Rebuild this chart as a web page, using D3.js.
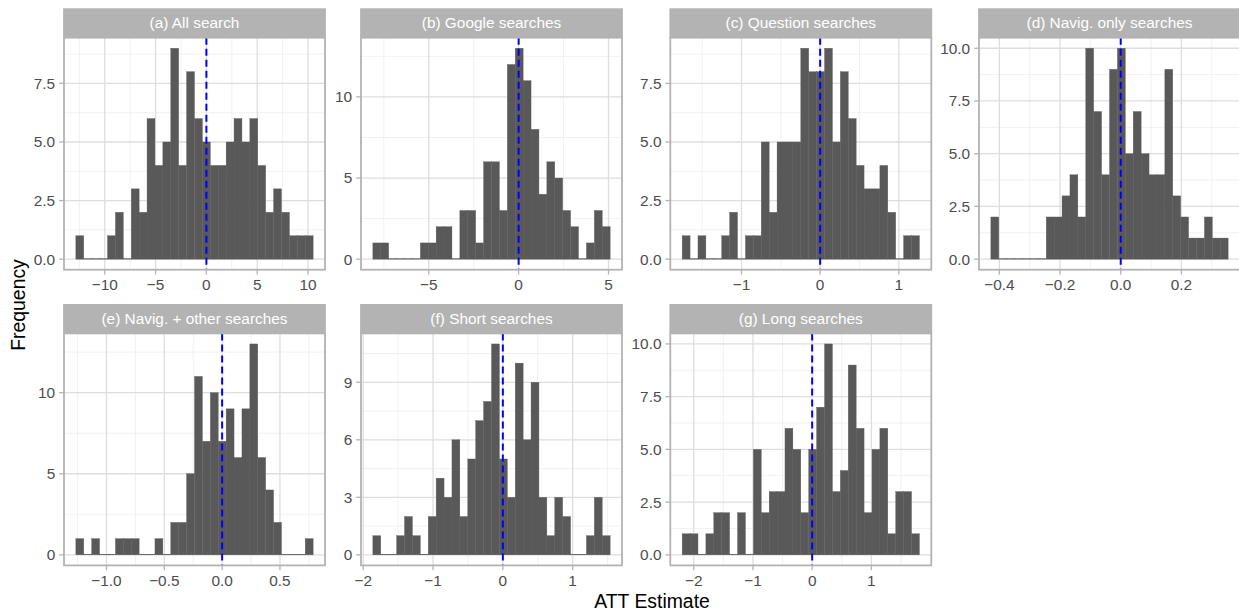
<!DOCTYPE html>
<html>
<head>
<meta charset="utf-8">
<script src="https://cdn.jsdelivr.net/npm/d3@7"></script>
<style>
  body { margin: 0; background: #fff; }
  text { font-family: "Liberation Sans", Arial, sans-serif; }
</style>
</head>
<body>
<div id="chart-container"></div>
<script>
// Panel titles (facet strips)
const panelTitles = [
  "(a) All search", "(b) Google searches", "(c) Question searches",
  "(d) Navig. only searches", "(e) Navig. + other searches",
  "(f) Short searches", "(g) Long searches"
];

// Histogram bin range [first bin left edge, last bin right edge], 30 bins each
const binRanges = [
  [-12.84, 10.5], [-8.11, 5.09], [-1.754, 1.262], [-0.428, 0.354],
  [-1.265, 0.787], [-1.862, 1.537], [-2.196, 1.812]
];

// Bin counts
const countsA = [1,0,0,0,1,2,0,3,2,6,4,5,9,4,8,6,5,4,4,5,6,5,6,4,2,3,2,1,1,1];
const countsB = [1,1,0,0,0,0,1,1,2,2,0,3,3,1,6,6,3,12,13,11,8,4,6,5,3,2,0,1,3,2];
const countsC = [1,0,1,0,0,1,2,0,1,1,5,2,5,5,5,9,8,8,9,5,8,6,4,3,3,4,2,0,1,1];
const countsD = [2,0,0,0,0,0,0,2,2,3,4,2,10,7,4,9,10,5,7,5,4,4,9,3,2,1,1,2,1,1];
const countsE = [1,0,1,0,0,1,1,1,0,0,1,0,2,2,5,11,7,10,7,9,6,9,13,6,4,2,0,0,0,1];
const countsF = [1,0,0,1,2,1,0,2,4,3,6,2,5,7,8,11,5,3,10,6,9,3,1,3,2,0,0,1,3,1];
const countsG = [1,1,0,1,2,2,0,2,0,5,2,3,3,6,5,2,5,7,10,3,4,9,6,2,5,6,1,3,3,1];
const allCounts = [countsA, countsB, countsC, countsD, countsE, countsF, countsG];

// Tick labels per panel
const xTickLabels = [
  ["−10", "−5", "0", "5", "10"],
  ["−5", "0", "5"],
  ["−1", "0", "1"],
  ["−0.4", "−0.2", "0.0", "0.2"],
  ["−1.0", "−0.5", "0.0", "0.5"],
  ["−2", "−1", "0", "1"],
  ["−2", "−1", "0", "1"]
];
const yTickLabels = [
  ["0.0", "2.5", "5.0", "7.5"],
  ["0", "5", "10"],
  ["0.0", "2.5", "5.0", "7.5"],
  ["0.0", "2.5", "5.0", "7.5", "10.0"],
  ["0", "5", "10"],
  ["0", "3", "6", "9"],
  ["0.0", "2.5", "5.0", "7.5", "10.0"]
];
const refLine = 0;

const width = 1239, height = 613;
const colX = [64, 361, 670.3, 979];
const colW = 261;
const rowTop = [8.3, 304];
const stripH = 29.4;
const panelH = 232;

const num = s => +s.replace("−", "-");

const svg = d3.select("#chart-container")
  .append("svg")
  .attr("width", width)
  .attr("height", height);

function minorsFor(majors, domain) {
  const step = majors[1] - majors[0];
  const out = [];
  for (let v = majors[0] - step / 2; v <= majors[majors.length - 1] + step / 2 + 1e-9; v += step) {
    if (v >= domain[0] && v <= domain[1]) out.push(v);
  }
  return out;
}

allCounts.forEach((counts, i) => {
  const col = i % 4, row = Math.floor(i / 4);
  const x0 = colX[col];
  const st = rowTop[row];
  const top = st + stripH;
  const bottom = top + panelH;

  const [lo, hi] = binRanges[i];
  const n = counts.length;
  const bw = (hi - lo) / n;
  const bins = counts.map((c, k) => ({ x0: lo + k * bw, x1: lo + (k + 1) * bw, c }));

  const xr = hi - lo;
  const xScale = d3.scaleLinear()
    .domain([lo - 0.05 * xr, hi + 0.05 * xr])
    .range([x0, x0 + colW]);
  const yMax = d3.max(counts);
  const yScale = d3.scaleLinear()
    .domain([-0.05 * yMax, yMax * 1.05])
    .range([bottom, top]);

  const xMaj = xTickLabels[i].map(num);
  const yMaj = yTickLabels[i].map(num);

  const g = svg.append("g");

  // clip panel
  const clipId = "clip" + i;
  g.append("clipPath").attr("id", clipId)
    .append("rect").attr("x", x0).attr("y", top).attr("width", colW).attr("height", panelH);
  const pg = g.append("g").attr("clip-path", `url(#${clipId})`);

  // minor grid
  minorsFor(xMaj, xScale.domain()).forEach(v => {
    pg.append("line").attr("x1", xScale(v)).attr("x2", xScale(v))
      .attr("y1", top).attr("y2", bottom)
      .attr("stroke", "#EBEBEB").attr("stroke-width", 0.7);
  });
  minorsFor(yMaj, yScale.domain()).forEach(v => {
    pg.append("line").attr("x1", x0).attr("x2", x0 + colW)
      .attr("y1", yScale(v)).attr("y2", yScale(v))
      .attr("stroke", "#EBEBEB").attr("stroke-width", 0.7);
  });
  // major grid
  xMaj.forEach(v => {
    pg.append("line").attr("x1", xScale(v)).attr("x2", xScale(v))
      .attr("y1", top).attr("y2", bottom)
      .attr("stroke", "#DEDEDE").attr("stroke-width", 1.3);
  });
  yMaj.forEach(v => {
    pg.append("line").attr("x1", x0).attr("x2", x0 + colW)
      .attr("y1", yScale(v)).attr("y2", yScale(v))
      .attr("stroke", "#DEDEDE").attr("stroke-width", 1.3);
  });

  // bars (thin same-colour stroke hides seams between neighbours)
  pg.selectAll("rect.bar")
    .data(bins)
    .enter()
    .append("rect")
    .attr("class", "bar")
    .attr("x", d => xScale(d.x0))
    .attr("width", d => xScale(d.x1) - xScale(d.x0))
    .attr("y", d => Math.min(yScale(d.c), yScale(0) - 0.6))
    .attr("height", d => Math.max(yScale(0) - yScale(d.c), 0.6))
    .attr("fill", "#595959")
    .attr("stroke", "#595959")
    .attr("stroke-width", 0.35);

  // reference line
  pg.append("line")
    .attr("x1", xScale(refLine)).attr("x2", xScale(refLine))
    .attr("y1", top).attr("y2", bottom)
    .attr("stroke", "#0000FF").attr("stroke-width", 2)
    .attr("stroke-dasharray", "7,4");

  // panel border
  g.append("rect").attr("x", x0).attr("y", top).attr("width", colW).attr("height", panelH)
    .attr("fill", "none").attr("stroke", "#B3B3B3").attr("stroke-width", 1.8);

  // strip
  g.append("rect").attr("x", x0 - 0.9).attr("y", st).attr("width", colW + 1.8).attr("height", stripH)
    .attr("fill", "#B3B3B3");
  g.append("text").attr("x", x0 + colW / 2).attr("y", st + 19.8)
    .attr("text-anchor", "middle").attr("fill", "#fff")
    .style("font-size", "15.4px").text(panelTitles[i]);

  // x axis
  xMaj.forEach((v, k) => {
    g.append("line").attr("x1", xScale(v)).attr("x2", xScale(v))
      .attr("y1", bottom).attr("y2", bottom + 4.8)
      .attr("stroke", "#B3B3B3").attr("stroke-width", 1.3);
    g.append("text").attr("x", xScale(v)).attr("y", bottom + 20.7)
      .attr("text-anchor", "middle").attr("fill", "#4D4D4D")
      .style("font-size", "15.4px").text(xTickLabels[i][k]);
  });
  // y axis
  yMaj.forEach((v, k) => {
    g.append("line").attr("x1", x0 - 4.8).attr("x2", x0)
      .attr("y1", yScale(v)).attr("y2", yScale(v))
      .attr("stroke", "#B3B3B3").attr("stroke-width", 1.3);
    g.append("text").attr("x", x0 - 8.8).attr("y", yScale(v) + 5.4)
      .attr("text-anchor", "end").attr("fill", "#4D4D4D")
      .style("font-size", "15.4px").text(yTickLabels[i][k]);
  });
});

// axis titles
svg.append("text")
  .attr("x", (colX[0] + colX[3] + colW) / 2).attr("y", 607.5)
  .attr("text-anchor", "middle").attr("fill", "#000")
  .style("font-size", "19.4px").text("ATT Estimate");
svg.append("text")
  .attr("transform", "translate(25,305) rotate(-90)")
  .attr("text-anchor", "middle").attr("fill", "#000")
  .style("font-size", "19.4px").text("Frequency");
</script>
</body>
</html>
